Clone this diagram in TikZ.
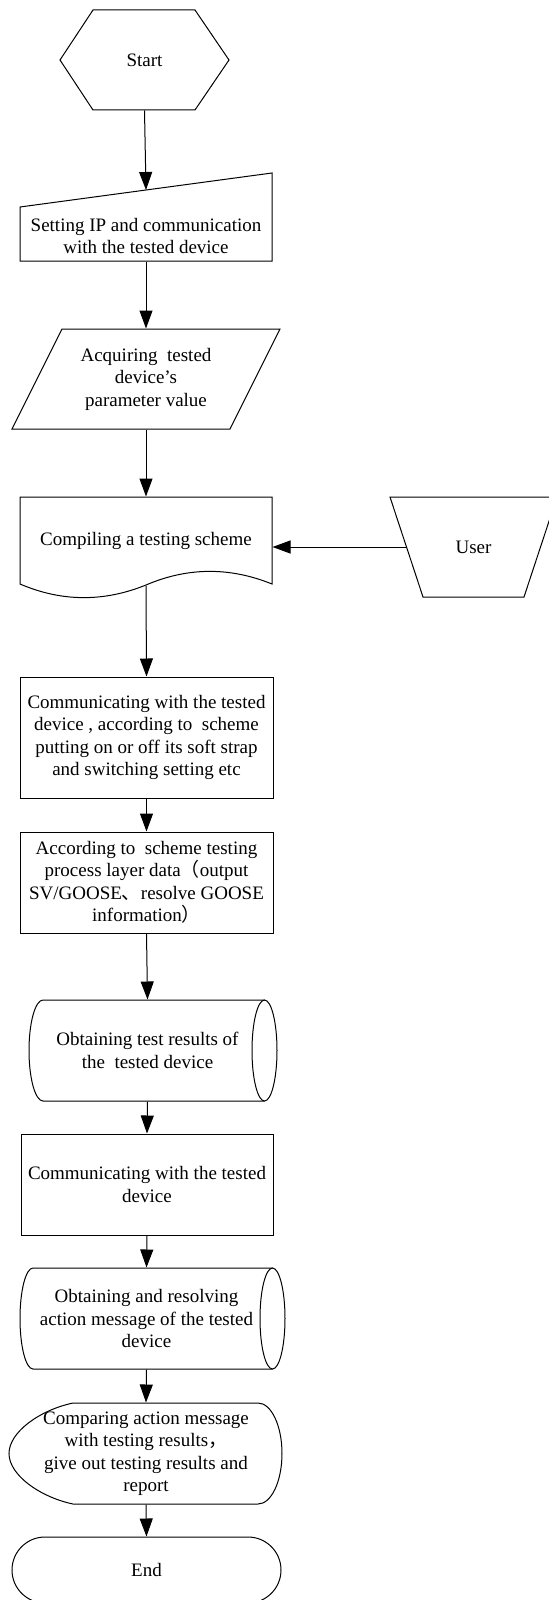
\documentclass[tikz,border=0pt]{standalone}
\usepackage{fontspec}
\setmainfont{Liberation Serif}
\newfontfamily\cjk{Noto Sans CJK SC}
\usetikzlibrary{arrows.meta,calc}
\begin{document}
\begin{tikzpicture}[x=0.5pt,y=-0.5pt, line width=0.5pt,
  arr/.style={-{Triangle[length=9pt,width=6.5pt]}},
  txt/.style={font=\fontsize{9.5pt}{11.25pt}\selectfont, align=center, inner sep=0pt},
  box/.style={txt, draw},
]
\useasboundingbox (0,0) rectangle (549,1600);
\clip (0,0) rectangle (549,1600);

% Start (hexagon)
\draw (93,10)--(195,10)--(229,60)--(195,110)--(93,110)--(60,60)--cycle;
\node[txt, minimum width=84.5pt, minimum height=50pt] (start) at (144.5,60) {Start};

% Setting IP (manual input)
\draw (20,207)--(272,173)--(272,261)--(20,261)--cycle;
\node[txt, minimum width=126pt, minimum height=25pt] (setip) at (146,236) {Setting IP and communication\\with the tested device};
\coordinate (setip-top) at (146,190);

% Acquiring (parallelogram)
\draw (62,329)--(280,329)--(230,429)--(12,429)--cycle;
\node[txt, minimum width=134pt, minimum height=50pt] (acq) at (146,379) {Acquiring\ \ tested\\device’s\\parameter value};

% Compiling (document)
\draw (20,584)--(20,497)--(272,497)--(272,584) .. controls (230,567) and (188,567) .. (146,585) .. controls (104,602) and (62,602) .. (20,584) -- cycle;
\node[txt, minimum width=126pt, minimum height=44pt] (comp) at (146,541) {Compiling a testing scheme};

% User (manual operation)
\draw (390,497)--(557,497)--(524,597)--(423,597)--cycle;
\node[txt, minimum width=67pt, minimum height=50pt] (user) at (473.5,547) {User};

% Process boxes
\node[box, minimum width=126.5pt, minimum height=60.5pt] (proc1) at (146.5,737.5) {Communicating with the tested\\device , according to\ \ scheme\\putting on or off its soft strap\\and switching setting etc};
\node[box, minimum width=126.5pt, minimum height=50.5pt] (proc2) at (146.5,882.5) {According to\ \ scheme testing\\process layer data{\cjk （}output\\SV/GOOSE{\cjk 、}resolve GOOSE\\information{\cjk ）}};

% Stored data 1
\draw (264.5,1000) -- (43,1000) arc[start angle=90,end angle=270,x radius=7pt,y radius=25.25pt] -- (264.5,1101);
\draw (264.5,1050.5) ellipse[x radius=6.25pt,y radius=25.25pt];
\node[txt, minimum width=118.5pt, minimum height=50.5pt] (stor1) at (147.5,1050.5) {Obtaining test results of\\the\ \ tested device};

\node[box, minimum width=126pt, minimum height=50.5pt] (proc3) at (147,1184.5) {Communicating with the tested\\device};

% Stored data 2
\draw (272.5,1268) -- (33,1268) arc[start angle=90,end angle=270,x radius=6.5pt,y radius=25.25pt] -- (272.5,1369);
\draw (272.5,1318.5) ellipse[x radius=6.25pt,y radius=25.25pt];
\node[txt, minimum width=126.5pt, minimum height=50.5pt] (stor2) at (146.5,1318.5) {Obtaining and resolving\\action message of the tested\\device};

% Display
\draw (73,1403) -- (258,1403) arc[start angle=90,end angle=-90,x radius=12pt,y radius=25.25pt] -- (73,1504) .. controls (40,1497) and (9,1475) .. (9,1453.5) .. controls (9,1432) and (40,1410) .. (73,1403) -- cycle;
\node[txt, minimum width=137pt, minimum height=50.5pt] (cmpr) at (146,1453.5) {Comparing action message\\with testing results{\cjk ，}\\give out testing results and\\report};

% End
\node[box, rounded corners=16.5pt, minimum width=134.5pt, minimum height=33pt] (endn) at (146.5,1570) {End};

% Connectors
\draw[arr] (start.south) -- (setip-top);
\draw[arr] (setip.south) -- (acq.north);
\draw[arr] (acq.south) -- (comp.north);
\draw[arr] (user.west) -- (comp.east |- user.west);
\draw[arr] (comp.south) -- (proc1.north);
\draw[arr] (proc1.south) -- (proc2.north);
\draw[arr] (proc2.south) -- (stor1.north);
\draw[arr] (stor1.south) -- (proc3.north);
\draw[arr] (proc3.south) -- (stor2.north);
\draw[arr] (stor2.south) -- (cmpr.north);
\draw[arr] (cmpr.south) -- (endn.north);
\end{tikzpicture}
\end{document}
